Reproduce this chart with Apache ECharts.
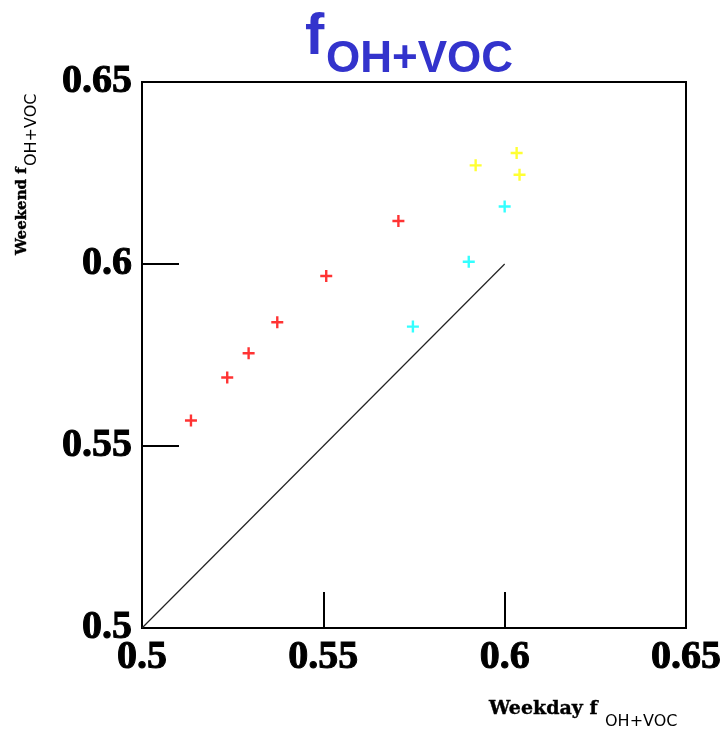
<!DOCTYPE html>
<html>
<head>
<meta charset="utf-8">
<script src="https://cdn.jsdelivr.net/npm/echarts@6/dist/echarts.min.js"></script>
<style>
  html, body { margin: 0; padding: 0; background: #fff; }
  #chart { width: 727px; height: 729px; }
</style>
</head>
<body>
<div id="chart"></div>
<script>
// ---- data ----
var redX    = [0.5135, 0.5235, 0.5294, 0.5373, 0.5508, 0.5707];
var redY    = [0.5570, 0.5688, 0.5755, 0.5840, 0.5967, 0.6118];
var cyanX   = [0.5747, 0.5901, 0.6000];
var cyanY   = [0.5828, 0.6006, 0.6158];
var yellowX = [0.5920, 0.6033, 0.6041];
var yellowY = [0.6271, 0.6305, 0.6245];
var diagX   = [0.5, 0.6];
var diagY   = [0.5, 0.6];
var xTickLabels = ['0.5', '0.55', '0.6', '0.65'];
var yTickLabels = ['0.5', '0.55', '0.6', '0.65'];
var titleMain = 'f';
var titleSub  = 'OH+VOC';
var xNameMain = 'Weekday f';
var yNameMain = 'Weekend f';
var nameSub   = 'OH+VOC';

function pairs(xs, ys) { return xs.map(function (x, i) { return [x, ys[i]]; }); }

var plus = 'path://M4,0h2v4h4v2h-4v4h-2v-4h-4v-2h4z';
var labelFont = { fontFamily: 'Liberation Serif', fontWeight: 'bold', fontSize: 40, color: '#000',
                  textBorderColor: '#000', textBorderWidth: 1 };

var chart = echarts.init(document.getElementById('chart'), null, { renderer: 'canvas' });
chart.setOption({
  animation: false,
  backgroundColor: '#fff',
  title: [
    { text: titleMain, left: 305, top: 9, padding: 0,
      textStyle: { fontFamily: 'Liberation Sans', fontWeight: 'bold', fontSize: 58, color: '#3333cc' } },
    { text: titleSub, left: 326, top: 38, padding: 0,
      textStyle: { fontFamily: 'Liberation Sans', fontWeight: 'bold', fontSize: 44, color: '#3333cc' } }
  ],
  grid: { left: 142, top: 82, right: 41, bottom: 101, show: true, borderColor: '#000', borderWidth: 2, containLabel: false },
  xAxis: {
    type: 'value', min: 0.5, max: 0.65, interval: 0.05,
    axisLine: { show: true, lineStyle: { color: '#000', width: 2 } },
    axisTick: { show: true, inside: true, length: 36, lineStyle: { color: '#000', width: 2 } },
    axisLabel: Object.assign({ margin: 10, showMinLabel: true, showMaxLabel: true,
      formatter: function (v, i) { return xTickLabels[i]; } }, labelFont),
    splitLine: { show: false }
  },
  yAxis: {
    type: 'value', min: 0.5, max: 0.65, interval: 0.05,
    axisLine: { show: true, lineStyle: { color: '#000', width: 2 } },
    axisTick: { show: true, inside: true, length: 37, lineStyle: { color: '#000', width: 2 } },
    axisLabel: Object.assign({ margin: 10, showMinLabel: true, showMaxLabel: true,
      formatter: function (v, i) { return yTickLabels[i]; } }, labelFont),
    splitLine: { show: false }
  },
  graphic: [
    { type: 'text', x: 489, y: 709, silent: true,
      style: { text: xNameMain, fontFamily: 'DejaVu Serif', fontWeight: 'bold', fontSize: 19, fill: '#000',
               stroke: '#000', lineWidth: 0.4, align: 'left', verticalAlign: 'middle' } },
    { type: 'text', x: 605, y: 722, silent: true,
      style: { text: nameSub, fontFamily: 'DejaVu Sans', fontSize: 16, fill: '#000', align: 'left', verticalAlign: 'middle' } },
    { type: 'text', x: 22, y: 255, rotation: Math.PI / 2, silent: true,
      style: { text: yNameMain, fontFamily: 'DejaVu Serif', fontWeight: 'bold', fontSize: 15, fill: '#000',
               stroke: '#000', lineWidth: 0.4, align: 'left', verticalAlign: 'middle' } },
    { type: 'text', x: 32, y: 166, rotation: Math.PI / 2, silent: true,
      style: { text: nameSub, fontFamily: 'DejaVu Sans', fontSize: 16, fill: '#000', align: 'left', verticalAlign: 'middle' } }
  ],
  series: [
    { type: 'line', data: pairs(diagX, diagY), showSymbol: false, symbol: 'none',
      lineStyle: { color: '#222', width: 1.2 }, silent: true },
    { type: 'scatter', data: pairs(redX, redY), symbol: plus, symbolSize: 12,
      itemStyle: { color: '#ff0000' } },
    { type: 'scatter', data: pairs(cyanX, cyanY), symbol: plus, symbolSize: 12,
      itemStyle: { color: '#00ffff' } },
    { type: 'scatter', data: pairs(yellowX, yellowY), symbol: plus, symbolSize: 12,
      itemStyle: { color: '#ffff00' } }
  ]
});
</script>
</body>
</html>
